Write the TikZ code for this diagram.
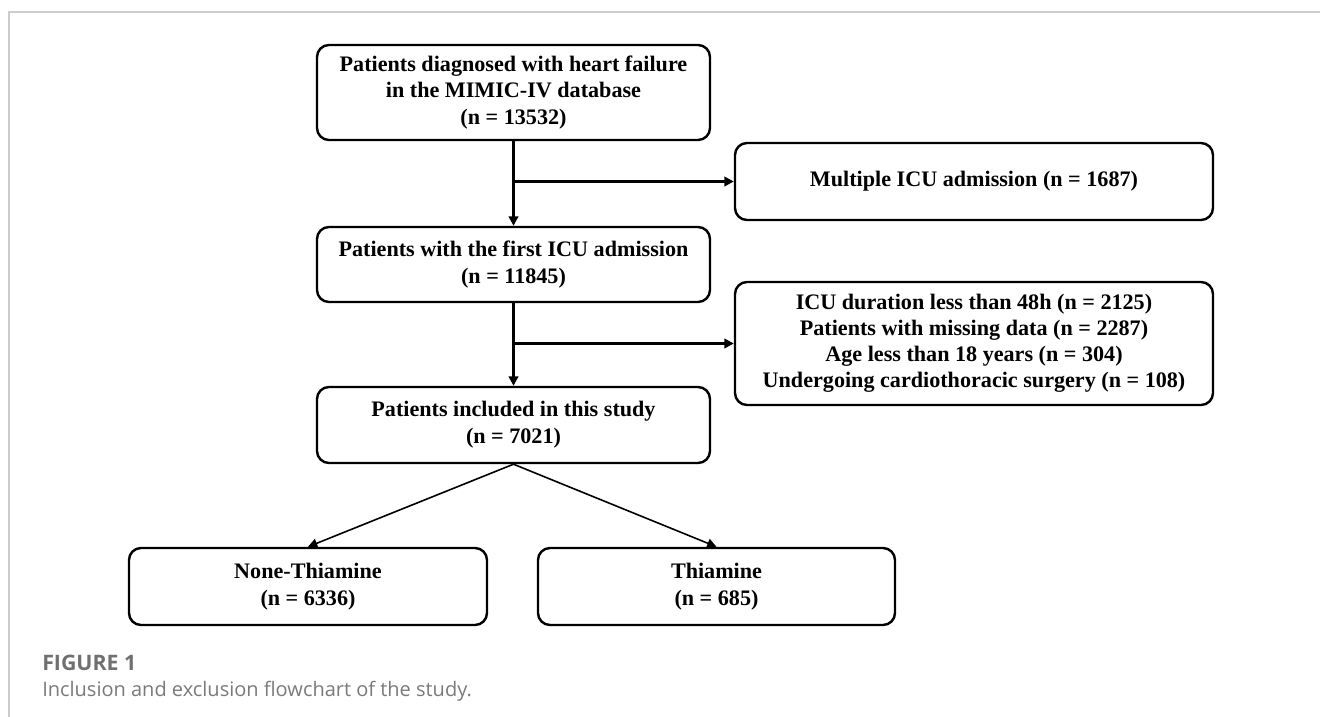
\documentclass[tikz,border=0pt]{standalone}
\usepackage{fontspec}
\setmainfont{Liberation Serif}
\newfontfamily\capfont{Open Sans}
\usetikzlibrary{arrows.meta}
\definecolor{framegray}{HTML}{CCCCCC}
\definecolor{figgray}{HTML}{707070}
\definecolor{capgray}{HTML}{7A7A7A}
\tikzset{
  flowbox/.style={draw=black, line width=1.8pt, rounded corners=9pt, align=center,
    font=\bfseries\fontsize{16.6}{20.2}\selectfont, inner sep=0pt},
  arr/.style={line width=1.8pt, -{Triangle[length=7pt,width=7pt]}},
  thinarr/.style={line width=1.2pt, -{Triangle[length=7pt,width=7pt]}},
  capfig/.style={font=\capfont\bfseries\fontsize{16}{18}\selectfont, text=figgray, anchor=west, inner sep=0pt},
  captext/.style={font=\capfont\fontsize{15}{18}\selectfont, text=capgray, anchor=west, inner sep=0pt}
}
\begin{document}
\begin{tikzpicture}[x=0.75pt,y=-0.75pt]
\useasboundingbox (0,0) rectangle (1320,717);
% frame
\draw[framegray, line width=1.2pt] (9,717) -- (9,12) -- (1320,12);
% boxes
\node[flowbox, minimum width=393*0.75pt, minimum height=95*0.75pt] (b1) at (513.5,92.5)
  {Patients diagnosed with heart failure\\in the MIMIC-IV database\\(n = 13532)};
\node[flowbox, minimum width=393*0.75pt, minimum height=75*0.75pt] (b2) at (513.5,264.5)
  {Patients with the first ICU admission\\(n = 11845)};
\node[flowbox, minimum width=393*0.75pt, minimum height=76*0.75pt] (b3) at (513.5,425)
  {Patients included in this study\\(n = 7021)};
\node[flowbox, minimum width=478*0.75pt, minimum height=77*0.75pt] (m1) at (974,181.5)
  {Multiple ICU admission (n = 1687)};
\node[flowbox, minimum width=478*0.75pt, minimum height=123*0.75pt, font=\bfseries\fontsize{16.6}{19.6}\selectfont] (m2) at (974,343.5)
  {ICU duration less than 48h (n = 2125)\\Patients with missing data (n = 2287)\\Age less than 18 years (n = 304)\\Undergoing cardiothoracic surgery (n = 108)};
\node[flowbox, minimum width=358*0.75pt, minimum height=77*0.75pt] (b4) at (308,586.5)
  {None-Thiamine\\(n = 6336)};
\node[flowbox, minimum width=357*0.75pt, minimum height=77*0.75pt] (b5) at (716.5,586.5)
  {Thiamine\\(n = 685)};
% connectors
\draw[arr] (b1.south) -- (b2.north);
\draw[arr] (b1.south |- m1.west) -- (m1.west);
\draw[arr] (b2.south) -- (b3.north);
\draw[arr] (b2.south |- m2.west) -- (m2.west);
\draw[thinarr] (b3.south) -- (b4.north);
\draw[thinarr] (b3.south) -- (b5.north);
% caption
\node[capfig] (fig) at (42,663) {FIGURE 1};
\node[captext] (cap) at (42,691) {Inclusion and exclusion flowchart of the study.};
\end{tikzpicture}
\end{document}
